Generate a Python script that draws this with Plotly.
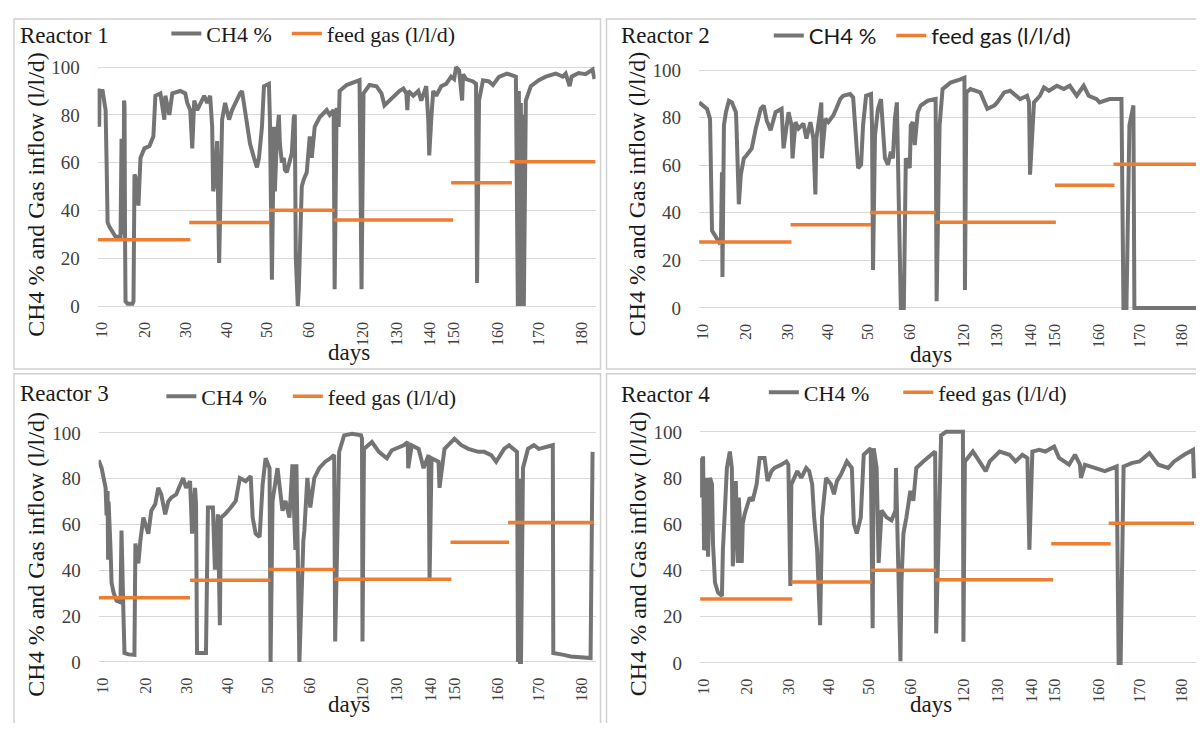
import plotly.graph_objects as go

# ---------------- data ----------------
# x positions are sample (row) indexes on the category axis
tick_pos = [3.7, 47, 89, 130, 170, 212, 266, 300, 334, 358, 402, 443, 486]
tick_text = ["10", "20", "30", "40", "50", "60", "120", "130", "140", "150", "160", "170", "180"]

feed_rate = [27.7, 35.0, 40.1, 36.0, 51.6, 60.4]
r1_feed_start = [0, 92, 172, 237, 355, 414]
r1_feed_end = [93, 173, 238, 357, 416, 500]
r2_feed_start = [0, 92, 172, 238, 358, 417]
r2_feed_end = [93, 173, 238, 359, 418, 502]
r3_feed_rate = [28.0, 35.7, 40.4, 36.1, 52.2, 60.9]
r3_feed_start = [0, 92, 171, 237, 354, 412]
r3_feed_end = [92, 173, 238, 355, 413, 498]
r4_feed_start = [0, 92, 172, 237, 354, 412]
r4_feed_end = [93, 173, 238, 356, 414, 498]

r1_x = [1, 1.5, 2, 5, 8, 9, 10, 12, 15, 18, 23, 24, 25, 26, 26.5, 27, 27.5, 28, 30, 35, 36, 37, 38, 41, 43, 47, 52, 56, 58, 63, 67, 68, 72, 75, 83, 88, 90, 93, 95, 97, 100, 107, 110, 113, 115, 116, 118, 120, 122, 123, 125, 128, 132, 135, 138, 143, 145, 147, 150, 153, 157, 160, 162, 165, 167, 172, 173, 174, 175, 177, 178, 180, 182, 183, 185, 187, 188, 190, 193, 195, 197, 198, 199, 201, 202, 205, 207, 210, 213, 215, 218, 223, 230, 233, 237, 238, 240, 242, 243, 250, 263, 265, 267, 273, 280, 285, 288, 293, 303, 307, 310, 311, 312, 317, 322, 325, 328, 330, 332, 333, 335, 337, 340, 345, 350, 355, 358, 360, 363, 366, 367, 370, 377, 380, 381, 383, 387, 393, 397, 403, 411, 420, 422, 423, 424, 425, 426, 427, 428, 429, 430, 435, 443, 450, 460, 467, 470, 474, 476, 483, 490, 497, 499]
r1_ch4 = [91, 75, 90, 90, 82, 60, 35, 33, 31, 29, 29, 70, 30, 33, 86, 84, 30, 2, 1, 1, 2, 55, 54, 42, 62, 66, 67, 71, 88, 89, 78, 88, 80, 89, 90, 89, 85, 82, 66, 86, 82, 88, 85, 88, 75, 48, 53, 69, 18, 48, 78, 85, 78, 82, 85, 89, 90, 85, 75, 68, 62, 58, 62, 75, 92, 93, 78, 37, 11, 75, 48, 71, 80, 68, 60, 62, 57, 56, 62, 64, 79, 80, 20, 0, 7, 50, 53, 56, 71, 62, 75, 79, 82, 80, 82, 7, 83, 75, 90, 92.5, 94.5, 7, 89, 92.5, 92, 89, 84, 86, 90, 91, 89, 82, 90, 88, 90, 86, 89, 92, 78, 63, 78, 90, 88, 92, 93, 96, 95, 100, 98.6, 86, 97, 95, 94, 93, 9.6, 86, 94.5, 94, 92.5, 95.9, 97.3, 96, 0, 90, 0, 85, 0, 80, 0, 75, 86, 92, 94.5, 96, 97.3, 96, 97.3, 92, 96, 97.5, 97, 99, 95]

r2_x = [0, 5, 8, 11, 12, 13, 17, 20, 22, 23, 23.5, 24, 25, 27, 30, 33, 37, 37.5, 40, 42, 45, 48, 53, 57, 62, 65, 68, 72, 77, 83, 85, 90, 93, 94, 97, 100, 105, 108, 112, 115, 117, 118, 123, 123.5, 127, 130, 135, 138, 142, 145, 152, 155, 157, 160, 163, 165, 168, 173, 174, 175, 177, 180, 183, 187, 190, 193, 195, 197, 199, 202, 203, 206, 207, 208, 212, 213, 215, 217, 220, 223, 230, 238, 239, 242, 245, 253, 263, 267, 267.5, 269, 273, 283, 290, 297, 300, 307, 313, 323, 330, 332, 333, 337, 343, 347, 352, 360, 367, 373, 380, 387, 392, 400, 403, 413, 425, 427, 430, 433, 437, 438, 502, 503]
r2_ch4 = [86.4, 85, 83.7, 79.5, 35, 32.5, 29.8, 27.7, 29, 57, 13, 60.2, 76.8, 82.3, 87.1, 86.4, 82.3, 78, 43.6, 56, 62.9, 64.3, 67.1, 75.4, 83.7, 85.1, 78.8, 74.7, 82.3, 83.7, 67.1, 82.3, 76.8, 62.9, 78.1, 75.4, 77.5, 71.2, 78.1, 71.2, 47.7, 71.2, 86.4, 62.9, 79.5, 78.1, 80.9, 83.7, 87.8, 89.2, 89.9, 88.5, 76.8, 58.8, 60.2, 76.8, 89.2, 89.9, 76.8, 16, 72.6, 83.7, 87.8, 62.9, 60.2, 65.7, 62.9, 79.5, 86.4, 24.5, 0, 0, 51.9, 62.9, 58.8, 76.8, 78.1, 68.5, 82.3, 85.1, 87.1, 87.8, 2.8, 76.8, 92, 94.7, 96.1, 96.8, 7.6, 90.6, 92, 90.6, 83.7, 85.1, 86.4, 90.6, 91.3, 87.8, 89.2, 86.4, 56, 86.4, 89.2, 92.7, 91.3, 93.4, 92, 93.4, 89.2, 93.4, 89.2, 87.8, 86.4, 87.8, 87.8, 0, 0, 76.8, 85.1, 0, 0, 81.6]

r3_x = [0, 3, 7, 8, 9, 9.5, 10, 12, 13, 15, 18, 22, 23, 25, 26, 30, 36, 37, 40, 42, 45, 50, 53, 57, 60, 63, 67, 70, 73, 78, 85, 88, 92, 94, 97, 98, 99, 108, 110, 115, 117, 120, 122, 123, 127, 133, 138, 142, 148, 153, 155, 158, 162, 165, 168, 172, 173, 175, 180, 185, 188, 192, 195, 198, 199, 202, 204, 206, 207, 210, 213, 217, 222, 228, 233, 237, 238, 242, 247, 255, 264, 265, 265.5, 267, 275, 282, 290, 295, 307, 311, 311.5, 315, 322, 327, 332, 333, 335, 342, 343, 348, 358, 365, 372, 382, 388, 395, 400, 408, 413, 418, 421, 422, 423, 424, 425, 427, 432, 438, 443, 457, 457.5, 468, 475, 495, 497]
r3_ch4 = [88, 84.6, 76, 64, 74.6, 44.6, 70, 48.9, 34.6, 30.3, 26.7, 26, 57.4, 20.3, 3.9, 3.3, 3.1, 51.7, 43, 53, 63, 56, 66, 68.9, 76, 73.1, 64.4, 70, 71.7, 73.1, 80.3, 76, 78.9, 56, 76, 68.9, 3.9, 3.9, 67.4, 67.4, 40.3, 64.4, 16, 63, 64.4, 67.4, 70.3, 80.3, 78.9, 81.1, 63, 56, 54.6, 77.4, 88.9, 84.6, 0, 70.3, 84.6, 66, 70.3, 63, 86.3, 48.9, 86.3, 0, 34.6, 53, 57.4, 80.3, 67.4, 80.3, 84.6, 87.4, 88.9, 90.3, 8.9, 91.7, 98.9, 99.6, 98.9, 97.4, 8.9, 93, 96, 91.7, 88.9, 92.4, 94.6, 96, 84.6, 94.6, 93, 84.6, 90.3, 36, 88.9, 87.4, 76, 93, 97.4, 94.6, 93, 91.7, 91.7, 90.3, 87.4, 93, 94.6, 93, 91.7, 0, 80, 0, 0, 84.6, 93, 94.6, 93, 94.6, 3.9, 3.1, 2.4, 1.7, 91.7]

r4_x = [0, 1, 3, 4, 5, 7, 8, 10, 12, 13, 15, 18, 22, 23, 25, 27, 30, 32, 33, 34, 36, 38, 39, 41, 42, 43, 45, 50, 53, 57, 60, 65, 68, 72, 75, 82, 87, 89, 91, 92, 98, 102, 107, 110, 113, 115, 118, 121, 123, 127, 132, 135, 138, 142, 148, 153, 155, 158, 162, 165, 172, 174, 175, 178, 180, 183, 188, 193, 197, 197.5, 202, 203, 205, 208, 212, 215, 218, 225, 233, 237, 238, 243, 248, 265, 265.5, 267, 275, 285, 288, 292, 302, 312, 318, 325, 330, 332, 335, 342, 348, 357, 362, 372, 378, 383, 384, 388, 398, 408, 420, 422, 424, 427, 435, 443, 453, 462, 472, 478, 488, 497, 498]
r4_ch4 = [88.7, 71.6, 89.4, 48.9, 50, 80.1, 46, 80.1, 77.3, 51.8, 34.8, 30.5, 29, 48.9, 66, 84.4, 91.5, 84.4, 41.8, 57.4, 78.7, 43.3, 71.6, 54.6, 43.3, 60.3, 64.5, 71.6, 70.2, 77.3, 88.7, 88.7, 78.7, 83, 84.4, 85.8, 87.2, 85.8, 33.3, 77.3, 83, 80.1, 84.4, 83, 77.3, 63, 48.9, 16.3, 63, 80.1, 77.3, 73, 78.7, 81.5, 87.2, 84.4, 60.3, 56, 63, 90.1, 92.9, 15, 92.9, 84.4, 43.3, 66, 63, 61.7, 66, 84.4, 0.7, 34.8, 56, 63, 74.5, 70.2, 84.4, 87.2, 90.1, 91.5, 12.8, 98.5, 100, 100, 9.2, 87.2, 91.5, 84.4, 83, 87.2, 91.5, 90.1, 87.2, 90.1, 88.7, 49, 91.5, 92.2, 91.5, 93.6, 88.7, 85.8, 90.1, 85.8, 80.1, 85.8, 84.4, 83, 85, 0, 0, 85, 86.5, 87.2, 90.8, 85.8, 84.4, 87.2, 90.1, 92.2, 80]

reactors = ["Reactor 1", "Reactor 2", "Reactor 3", "Reactor 4"]
ch4_name = "CH4 %"
feed_name = "feed gas (l/l/d)"
y_title = "CH4 % and Gas inflow (l/l/d)"
x_title = "days"

# ---------------- styling / layout ----------------
# The page body keeps an 8px margin, so the figure is 16px smaller than the window.
OFF = 8
W, H = 1204 - 2 * OFF, 731 - 2 * OFF
GRAY = "#747474"
ORANGE = "#ED7D31"
GRID = "#D9D9D9"
SERIF = "Liberation Serif"
TXT = "#1a1a1a"


def px(x):
    return min(max((x - OFF) / W, 0.0), 1.0)


def py(y):
    return min(max(1 - (y - OFF) / H, 0.0), 1.0)


def feed_xy(starts, ends, rates):
    xs, ys = [], []
    for s, e, r in zip(starts, ends, rates):
        xs += [s, e, None]
        ys += [r, r, None]
    return xs, ys


# pixel geometry per panel (window pixel coordinates)
panels = [
    dict(l=93, r=593, xmax=500, y0=305, y100=62, leg1=(162, 28), leg2=(283, 28), title=(13, 30),
         yt=(31, 191), dx=(345, 352), legfont="Liberation Serif"),
    dict(l=697, r=1196, xmax=500, y0=307, y100=65, leg1=(767, 30), leg2=(890, 30), title=(617, 30),
         yt=(635, 191), dx=(930, 354), legfont="Lato"),
    dict(l=94, r=593, xmax=500, y0=667, y100=434, leg1=(157, 397), leg2=(284, 397), title=(13, 394),
         yt=(31, 557), dx=(345, 710), legfont="Liberation Serif"),
    dict(l=698, r=1196, xmax=500, y0=668, y100=433, leg1=(762, 393), leg2=(897, 393), title=(617, 395),
         yt=(635, 557), dx=(930, 710), legfont="Liberation Serif"),
]

series = [
    (r1_x, r1_ch4, feed_xy(r1_feed_start, r1_feed_end, feed_rate)),
    (r2_x, r2_ch4, feed_xy(r2_feed_start, r2_feed_end, feed_rate)),
    (r3_x, r3_ch4, feed_xy(r3_feed_start, r3_feed_end, r3_feed_rate)),
    (r4_x, r4_ch4, feed_xy(r4_feed_start, r4_feed_end, feed_rate)),
]

fig = go.Figure()
layout = dict(
    width=W, height=H, margin=dict(l=0, r=0, t=0, b=0),
    paper_bgcolor="white", plot_bgcolor="white", showlegend=True,
    font=dict(family=SERIF, color="#404040"),
    annotations=[], shapes=[],
)

YLO, YHI = -2, 102
boxes = [(9, 13, 598, 369), (604, 13, 1210, 369), (9, 374, 598, 740), (604, 374, 1210, 740)]


def leg_name(k):
    return "legend" if k == 1 else "legend%d" % k


for i, (p, (sx, sy, (fx, fy))) in enumerate(zip(panels, series)):
    n = "" if i == 0 else str(i + 1)
    la, lb = leg_name(2 * i + 1), leg_name(2 * i + 2)
    ppu = (p["y0"] - p["y100"]) / 100.0
    dom_bottom = p["y0"] - YLO * ppu
    dom_top = p["y100"] - (YHI - 100) * ppu

    fig.add_trace(go.Scatter(x=sx, y=sy, mode="lines", name=ch4_name, showlegend=True,
                             line=dict(color=GRAY, width=4), xaxis="x" + n, yaxis="y" + n,
                             legend=la))
    fig.add_trace(go.Scatter(x=fx, y=fy, mode="lines", name=feed_name, showlegend=True,
                             line=dict(color=ORANGE, width=3.5), xaxis="x" + n, yaxis="y" + n,
                             legend=lb, connectgaps=False))

    layout["xaxis" + n] = dict(
        domain=[px(p["l"]), px(p["r"])], range=[0, p["xmax"]], anchor="y" + n,
        tickmode="array", tickvals=tick_pos, ticktext=tick_text, tickangle=-90,
        showgrid=False, zeroline=False, showline=False, ticks="",
        tickfont=dict(family=SERIF, size=16, color="#404040"), ticklabelstandoff=7,
    )
    layout["yaxis" + n] = dict(
        domain=[py(dom_bottom), py(dom_top)], range=[YLO, YHI], anchor="x" + n,
        tickmode="array", tickvals=[0, 20, 40, 60, 80, 100],
        showgrid=True, gridcolor=GRID, gridwidth=1, zeroline=False, showline=False,
        ticks="", tickfont=dict(family=SERIF, size=19, color="#404040"), ticklabelstandoff=17,
    )
    for name, (lx, ly) in ((la, p["leg1"]), (lb, p["leg2"])):
        layout[name] = dict(
            orientation="h", x=px(lx), y=py(ly), xanchor="left", yanchor="middle",
            bgcolor="rgba(0,0,0,0)", font=dict(family=p["legfont"], size=22, color=TXT),
            itemwidth=30,
        )
    layout["annotations"] += [
        dict(text=reactors[i], x=px(p["title"][0]), y=py(p["title"][1]), xref="paper", yref="paper",
             xanchor="left", yanchor="middle", showarrow=False,
             font=dict(family=SERIF, size=23, color=TXT)),
        dict(text=y_title, x=px(p["yt"][0]), y=py(p["yt"][1]), xref="paper", yref="paper",
             xanchor="center", yanchor="middle", textangle=-90, showarrow=False,
             font=dict(family=SERIF, size=24, color=TXT)),
        dict(text=x_title, x=px(p["dx"][0]), y=py(p["dx"][1]), xref="paper", yref="paper",
             xanchor="center", yanchor="middle", showarrow=False,
             font=dict(family=SERIF, size=23, color=TXT)),
    ]
    bx0, by0, bx1, by1 = boxes[i]
    layout["shapes"].append(dict(type="rect", xref="paper", yref="paper",
                                 x0=(bx0 - OFF) / W, x1=(bx1 - OFF) / W,
                                 y0=1 - (by1 - OFF) / H, y1=1 - (by0 - OFF) / H,
                                 line=dict(color="#D0D0D0", width=1.5), layer="below"))

fig.update_layout(**layout)
fig.write_html("out.html", config={"displayModeBar": False})
